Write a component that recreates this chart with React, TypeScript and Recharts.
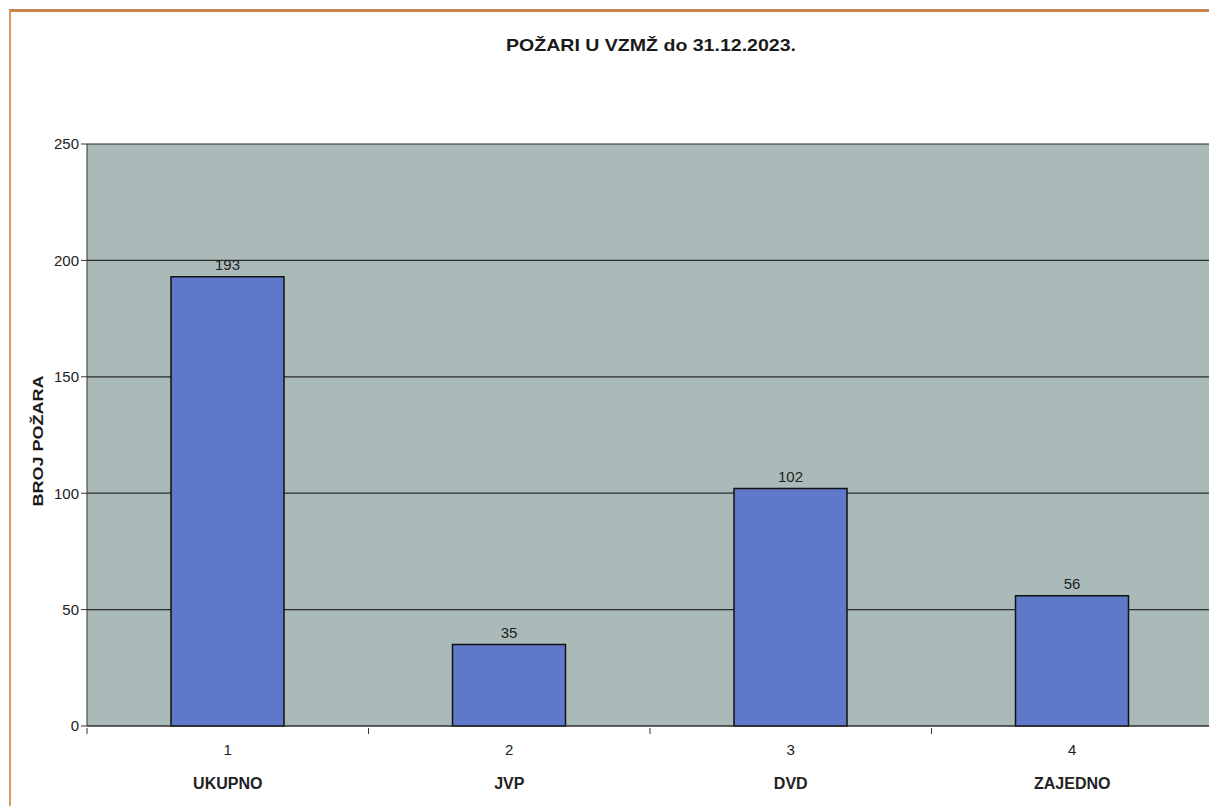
import React from "react";
import { BarChart, Bar, XAxis, YAxis, CartesianGrid, LabelList } from "recharts";

const categories = ["1", "2", "3", "4"];
const groupNames = ["UKUPNO", "JVP", "DVD", "ZAJEDNO"];
const fireCounts = [193, 35, 102, 56];
const yTicks = [0, 50, 100, 150, 200, 250];

const FONT = "'Liberation Sans', Arial, sans-serif";

const data = categories.map((c, i) => ({ cat: c, name: groupNames[i], value: fireCounts[i] }));

// number + group name, plus small tick marks on the slot boundaries
function TwoRowTick({ x, y, payload, index }: any) {
  const name = groupNames[index] ?? "";
  const half = payload?.offset ?? 0;
  return (
    <g>
      {half > 0 && (
        <line x1={x - half} x2={x - half} y1={y - 8} y2={y - 2} stroke="#333" />
      )}
      {half > 0 && index === categories.length - 1 && (
        <line x1={x + half} x2={x + half} y1={y - 8} y2={y - 2} stroke="#333" />
      )}
      <g transform={`translate(${x},${y})`}>
        <text x={0} y={0} dy={19} textAnchor="middle" fill="#222" fontSize={15} fontFamily={FONT}>
          {payload.value}
        </text>
        <text x={0} y={0} dy={53} textAnchor="middle" fill="#222" fontSize={16} fontWeight={700} fontFamily={FONT}>
          {name}
        </text>
      </g>
    </g>
  );
}

export default function App() {
  return (
    <div style={{ position: "relative", width: 1209, height: 799, fontFamily: FONT, background: "#fff" }}>
      {/* frame */}
      <div
        style={{
          position: "absolute",
          left: 1,
          top: 1,
          width: 1208,
          height: 797,
          borderTop: "3px solid #c9854c",
          borderLeft: "2px solid #d49b68",
          boxSizing: "border-box",
        }}
      />
      <div
        style={{
          position: "absolute",
          left: 643,
          top: 28,
          transform: "translateX(-50%) scaleX(1.15)",
          fontSize: 17,
          fontWeight: 700,
          color: "#1a1a1a",
          whiteSpace: "nowrap",
        }}
      >
        POŽARI U VZMŽ do 31.12.2023.
      </div>
      <div
        style={{
          position: "absolute",
          left: 29,
          top: 433,
          transform: "translate(-50%, -50%) rotate(-90deg) scaleX(1.2)",
          fontSize: 15,
          fontWeight: 700,
          color: "#1a1a1a",
          whiteSpace: "nowrap",
        }}
      >
        BROJ POŽARA
      </div>
      <div style={{ position: "absolute", left: 0, top: 0 }}>
        <BarChart width={1209} height={799} data={data} margin={{ top: 136, right: 4, bottom: 11, left: 0 }}>
          <CartesianGrid vertical={false} stroke="#2b2b2b" strokeWidth={1.2} fill="#aabab8" />
          <XAxis
            dataKey="cat"
            tick={<TwoRowTick />}
            tickLine={false}
            tickSize={8}
            axisLine={{ stroke: "#333" }}
            height={70}
            interval={0}
          />
          <YAxis
            domain={[0, 250]}
            ticks={yTicks}
            width={79}
            tick={{ fill: "#222", fontSize: 15, fontFamily: FONT }}
            tickLine={{ stroke: "#333" }}
            tickSize={6}
            axisLine={{ stroke: "#333" }}
          />
          <Bar dataKey="value" barSize={113} fill="#6078c9" stroke="#111" strokeWidth={1.5} isAnimationActive={false}>
            <LabelList dataKey="value" position="top" fill="#222" fontSize={15} fontFamily={FONT} offset={7} />
          </Bar>
        </BarChart>
      </div>
    </div>
  );
}
